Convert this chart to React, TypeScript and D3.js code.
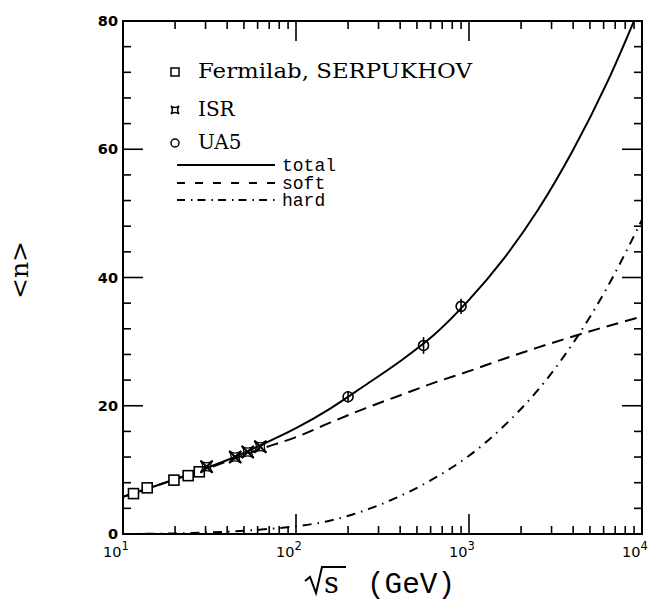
import React from 'react';
import * as d3 from 'd3';

// curve samples (sqrt(s) in GeV -> <n>)
const energies = [10, 15.85, 25.12, 39.81, 63.1, 100, 158.5, 251.2, 398.1, 631, 1000, 1585, 2512, 3981, 6310, 10000];
const totalN = [5.8, 7.6, 9.5, 11.5, 13.9, 16.5, 19.6, 23.2, 26.9, 31.1, 36.5, 42.9, 50.6, 59.8, 70.5, 83.0];
const softN = [5.8, 7.6, 9.4, 11.3, 13.3, 15.1, 17.4, 19.6, 21.6, 23.6, 25.4, 27.3, 29.1, 30.8, 32.4, 33.9];
const hardN = [0, 0.05, 0.15, 0.35, 0.7, 1.2, 2.1, 3.7, 5.9, 8.7, 12.2, 16.8, 22.5, 29.7, 38.5, 49.0];

// data points
const fnalE = [11.5, 13.8, 19.7, 23.8, 27.6];
const fnalN = [6.3, 7.2, 8.4, 9.1, 9.7];
const isrE = [30.4, 44.5, 52.6, 62.2];
const isrN = [10.5, 12.0, 12.8, 13.6];
const ua5E = [200, 546, 900];
const ua5N = [21.4, 29.4, 35.5];
const ua5Err = [0.9, 1.3, 1.2];

const yMajor = [0, 20, 40, 60, 80];
const xDecades = [10, 100, 1000, 10000];
const xExp = ['1', '2', '3', '4'];

const W = 651, H = 602;
const margin = { left: 123, right: 9, top: 21, bottom: 68 };

const starPath = (r: number) =>
  `M${-r},${-r} Q0,${-0.3 * r} ${r},${-r} Q${0.3 * r},0 ${r},${r} Q0,${0.3 * r} ${-r},${r} Q${-0.3 * r},0 ${-r},${-r}Z`;

export default function App() {
  const x = d3.scaleLog().domain([10, 10000]).range([margin.left, W - margin.right]);
  const y = d3.scaleLinear().domain([0, 80]).range([H - margin.bottom, margin.top]);
  const x0 = x.range()[0], x1 = x.range()[1];
  const y0 = y.range()[0], y1 = y.range()[1];

  const line = (vals: number[]) =>
    d3.line<number>()
      .x((_, i) => x(energies[i]))
      .y(d => y(d))
      .curve(d3.curveCatmullRom.alpha(0.5))(vals) || '';

  const yMinor = d3.range(0, 81, 4).filter(v => v % 20 !== 0);
  const xMinor: number[] = [];
  [10, 100, 1000].forEach(d => { for (let k = 2; k <= 9; k++) xMinor.push(d * k); });

  const serif = 'DejaVu Serif';
  const sans = 'DejaVu Sans';
  const mono = 'Liberation Mono';

  return (
    <svg width={W} height={H} style={{ position: 'absolute', left: 0, top: 0, background: '#fff' }}>
      <defs>
        <clipPath id="plot">
          <rect x={x0} y={y1} width={x1 - x0} height={y0 - y1} />
        </clipPath>
      </defs>

      {/* ticks */}
      <g stroke="#000" strokeWidth={1.6}>
        {yMajor.map(v => (
          <g key={'ym' + v}>
            <line x1={x0} x2={x0 + 20} y1={y(v)} y2={y(v)} />
            <line x1={x1} x2={x1 - 20} y1={y(v)} y2={y(v)} />
          </g>
        ))}
        {yMinor.map(v => (
          <g key={'yn' + v}>
            <line x1={x0} x2={x0 + 8} y1={y(v)} y2={y(v)} />
            <line x1={x1} x2={x1 - 8} y1={y(v)} y2={y(v)} />
          </g>
        ))}
        {xDecades.map(v => (
          <g key={'xm' + v}>
            <line x1={x(v)} x2={x(v)} y1={y0} y2={y0 - 20} />
            <line x1={x(v)} x2={x(v)} y1={y1} y2={y1 + 20} />
          </g>
        ))}
        {xMinor.map(v => (
          <g key={'xn' + v}>
            <line x1={x(v)} x2={x(v)} y1={y0} y2={y0 - 8} />
            <line x1={x(v)} x2={x(v)} y1={y1} y2={y1 + 8} />
          </g>
        ))}
      </g>

      {/* curves */}
      <g clipPath="url(#plot)" fill="none" stroke="#000" strokeWidth={2}>
        <path d={line(totalN)} />
        <path d={line(softN)} strokeDasharray="12,7" />
        <path d={line(hardN)} strokeDasharray="9,6,1.5,6" />
      </g>

      {/* data */}
      <g fill="none" stroke="#000" strokeWidth={1.6}>
        {fnalE.map((e, i) => (
          <rect key={'f' + i} x={x(e) - 5} y={y(fnalN[i]) - 5} width={10} height={10} fill="#fff" />
        ))}
        {isrE.map((e, i) => (
          <g key={'i' + i} transform={`translate(${x(e)},${y(isrN[i])})`}>
            <path d={starPath(6)} strokeWidth={1.2} />
            <path d="M-6,-6L6,6M6,-6L-6,6" strokeWidth={2} />
          </g>
        ))}
        {ua5E.map((e, i) => (
          <g key={'u' + i}>
            <line x1={x(e)} x2={x(e)} y1={y(ua5N[i] - ua5Err[i])} y2={y(ua5N[i] + ua5Err[i])} />
            <circle cx={x(e)} cy={y(ua5N[i])} r={5} />
          </g>
        ))}
      </g>

      {/* frame */}
      <rect x={x0} y={y1} width={x1 - x0} height={y0 - y1} fill="none" stroke="#000" strokeWidth={2} />

      {/* tick labels */}
      <g fontFamily={sans} fontWeight="bold" fontSize={14.5} textAnchor="end">
        {yMajor.map(v => (
          <text key={'yl' + v} x={x0 - 5} y={y(v) + 5}>{v}</text>
        ))}
      </g>
      <g fontFamily={sans} fontSize={14.5}>
        {xDecades.map((v, i) => (
          <text key={'xl' + v} x={x(v) - 20} y={y0 + 23}>
            10<tspan fontSize={11.5} dy={-7}>{xExp[i]}</tspan>
          </text>
        ))}
      </g>

      {/* axis titles */}
      <text transform="translate(28,270) rotate(-90)" textAnchor="middle" fontFamily={serif} fontSize={25}>&lt;n&gt;</text>
      <path d="M305,581 L310,577 L316,593 L322,567 L346,567" fill="none" stroke="#000" strokeWidth={2} />
      <text x={324} y={593} fontFamily={serif} fontSize={29}>s</text>
      <text x={367} y={593} fontFamily={mono} fontSize={29} textLength={88} lengthAdjust="spacingAndGlyphs">(GeV)</text>

      {/* legend */}
      <g fill="none" stroke="#000" strokeWidth={1.5}>
        <rect x={171} y={68} width={8} height={8} />
        <path d={starPath(4)} transform="translate(175,110)" />
        <circle cx={175} cy={143} r={4} />
        <line x1={177} x2={275} y1={165} y2={165} strokeWidth={2} />
        <line x1={177} x2={275} y1={183} y2={183} strokeWidth={2} strokeDasharray="8,10" />
        <line x1={177} x2={275} y1={200} y2={200} strokeWidth={2} strokeDasharray="8,6,1.5,5" />
      </g>
      <g fontFamily={serif} fontSize={20}>
        <text x={198} y={78} textLength={274} lengthAdjust="spacingAndGlyphs">Fermilab, SERPUKHOV</text>
        <text x={198} y={116}>ISR</text>
        <text x={198} y={149}>UA5</text>
      </g>
      <g fontFamily={mono} fontSize={18}>
        <text x={282} y={171}>total</text>
        <text x={282} y={189}>soft</text>
        <text x={282} y={206}>hard</text>
      </g>
    </svg>
  );
}
